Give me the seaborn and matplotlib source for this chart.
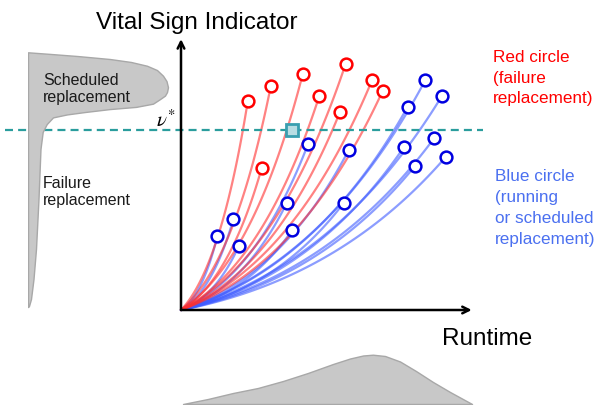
import numpy as np
import pandas as pd
import matplotlib
matplotlib.use("Agg")
import matplotlib.pyplot as plt
import seaborn as sns

# ---------------- data ----------------
red_runtime = [23.1, 31.1, 42.1, 57.0, 47.8, 55.0, 66.1, 69.8, 27.9]
red_vital = [77.6, 83.4, 87.6, 91.6, 79.4, 73.6, 85.4, 81.5, 52.7]

blue_runtime = [12.6, 18.1, 20.0, 36.6, 38.5, 44.0, 58.1, 56.3, 78.4, 84.5, 90.3, 77.1, 87.6, 81.0, 91.7]
blue_vital = [27.6, 33.7, 23.8, 39.8, 29.7, 61.8, 59.6, 39.8, 75.5, 85.4, 79.6, 60.5, 63.9, 53.6, 57.0]

v_star = 67.0
marker_runtime = [38.4]
marker_vital = [67.0]

# density of vital sign at replacement (left, rotated)
left_vital = [95.8, 95.2, 94.4, 93.3, 92.2, 90.8, 89.2, 87.1, 85.1, 82.8, 81.0, 79.7, 78.4,
              76.7, 75.5, 74.7, 73.6, 72.7, 71.6, 69.1, 66.2, 59.9, 41.3, 22.7, 11.5, 4.1, 1.5, 1.1]
left_density = [0, 22, 50, 82, 103, 119, 129, 135, 138.5, 140, 139, 137, 132,
                125, 108, 82, 57, 39, 25, 18.7, 14.7, 12.5, 10.5, 8, 5.5, 3, 1, 0]

# density of runtime at replacement (bottom)
bottom_runtime = [0.7, 9.3, 18.0, 26.6, 35.3, 43.9, 52.6, 58.5, 63.0, 66.4, 70.6, 75.8, 81.3, 87.2, 93.1, 100.7]
bottom_density = [0, 5, 11, 16, 23, 31, 40, 45.5, 48.5, 49.3, 48, 42.5, 33, 22, 12, 0]

# ---------------- style ----------------
sns.set_theme(style="white")
plt.rcParams["font.family"] = ["Liberation Sans", "DejaVu Sans"]
plt.rcParams["mathtext.fontset"] = "stix"

W, H = 603, 406
fig = plt.figure(figsize=(W / 100, H / 100), dpi=100)

def fx(x):
    return x / W

def fy(y):
    return 1 - y / H

# main axes covering whole figure; origin at pixel (181, 311)
ax = fig.add_axes([0, 0, 1, 1])
ax.set_xlim(-181 / 2.89, (W - 181) / 2.89)
ax.set_ylim(-(H - 311) / 2.69, 311 / 2.69)
ax.axis("off")
ax.patch.set_alpha(0)

# trajectories: smooth convex paths from origin to each end state
rows = []
a_ctrl, b_ctrl = 0.6, 0.2
s = np.linspace(0, 1, 60)
cid = 0
for kind, xs, ys in [("running", blue_runtime, blue_vital), ("failure", red_runtime, red_vital)]:
    for X, Y in zip(xs, ys):
        tx = 2 * s * (1 - s) * a_ctrl * X + s ** 2 * X
        ty = 2 * s * (1 - s) * b_ctrl * Y + s ** 2 * Y
        for u, v in zip(tx, ty):
            rows.append({"curve": cid, "kind": kind, "runtime": u, "vital": v})
        cid += 1
df = pd.DataFrame(rows)

sns.lineplot(data=df, x="runtime", y="vital", hue="kind", units="curve", estimator=None,
             sort=False, hue_order=["running", "failure"],
             palette={"running": "#3f5cff", "failure": "#ff2f2f"},
             alpha=0.6, lw=1.6, legend=False, ax=ax)

# threshold line
ax.hlines(v_star, -60.9, 104.5, colors="#2a9d9d", linestyles=(0, (3.6, 2.3)), lw=1.6, zorder=3)

# end-state circles
sns.scatterplot(x=red_runtime, y=red_vital, s=72, color="white", edgecolor="#ff0000",
                linewidth=1.8, ax=ax, zorder=6)
sns.scatterplot(x=blue_runtime, y=blue_vital, s=72, color="white", edgecolor="#0000e0",
                linewidth=1.8, ax=ax, zorder=6)
ax.plot(marker_runtime, marker_vital, marker="s", ms=9, mfc="#b8dde3", mec="#3a9fb0",
        mew=2, ls="none", zorder=7)

# axes arrows
ax.annotate("", xy=(0, 100.7), xytext=(0, 0),
            arrowprops=dict(arrowstyle="->", lw=1.8, color="black", shrinkA=0, shrinkB=0,
                            mutation_scale=12), zorder=8)
ax.annotate("", xy=(100.6, 0), xytext=(0, 0),
            arrowprops=dict(arrowstyle="->", lw=1.8, color="black", shrinkA=0, shrinkB=0,
                            mutation_scale=12), zorder=8)

# left density (rotated)
axl = fig.add_axes([fx(28), 0, fx(170) - fx(28), 1], sharey=ax)
axl.set_xlim(0, 142)
axl.fill_betweenx(left_vital, 0, left_density, color="#c8c8c8", edgecolor="#a8a8a8", lw=1.0)
axl.axis("off")
axl.patch.set_alpha(0)

# bottom density
axb = fig.add_axes([0, 0, 1, 66 / H], sharex=ax)
axb.set_ylim(-1, 65)
axb.fill_between(bottom_runtime, 0, bottom_density, color="#c8c8c8", edgecolor="#a8a8a8", lw=1.0)
axb.axis("off")
axb.patch.set_alpha(0)

# texts
fig.text(fx(96), fy(29), "Vital Sign Indicator", fontsize=17.5, color="black", va="baseline")
fig.text(fx(442), fy(345), "Runtime", fontsize=17.5, color="black", va="baseline")
fig.text(fx(176), fy(127), r"$\nu^{*}$", fontsize=15, color="black", ha="right", va="baseline")

txt = "#1a1a1a"
fig.text(fx(43), fy(85), "Scheduled", fontsize=11.5, color=txt, va="baseline")
fig.text(fx(43), fy(102), "replacement", fontsize=11.5, color=txt, va="baseline")
fig.text(fx(42.5), fy(188.5), "Failure", fontsize=11.5, color=txt, va="baseline")
fig.text(fx(42.5), fy(205.5), "replacement", fontsize=11.5, color=txt, va="baseline")

red_t = "#ff0000"
for y, t in [(61.7, "Red circle"), (82.7, "(failure"), (103.5, "replacement)")]:
    fig.text(fx(493), fy(y), t, fontsize=12.3, color=red_t, va="baseline")
blue_t = "#4b70f0"
for y, t in [(180.7, "Blue circle"), (201.7, "(running"), (223.0, "or scheduled"), (244.3, "replacement)")]:
    fig.text(fx(495), fy(y), t, fontsize=12.3, color=blue_t, va="baseline")

fig.savefig("out.png", dpi=100)
